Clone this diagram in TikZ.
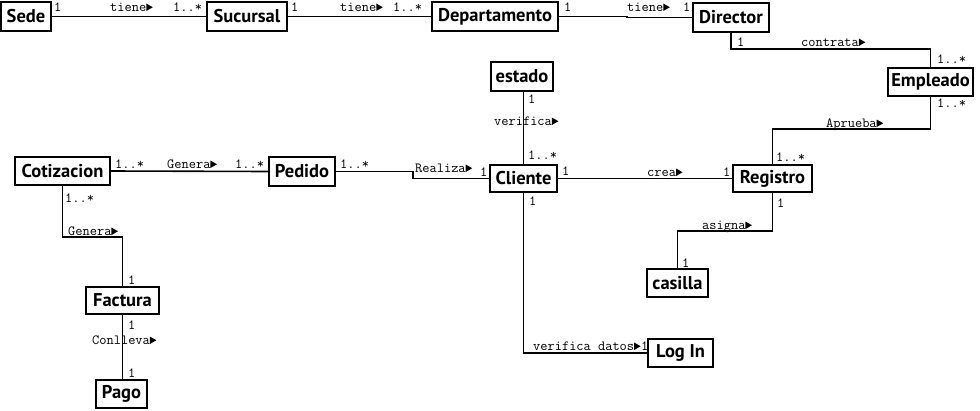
\documentclass[tikz,border=0pt]{standalone}
\usepackage{fontspec}
\newfontfamily\boxfont{PT Sans}[BoldFont={PT Sans Bold}]
\newcommand{\tri}{\tikz[baseline=0pt]\fill[black] (0.5pt,0pt) -- (0.5pt,7.5pt) -- (7pt,3.75pt) -- cycle;}
\begin{document}
\begin{tikzpicture}[x=1pt,y=-1pt,
  cls/.style={draw=black, line width=1.6pt, fill=white, inner sep=0pt, font=\boxfont\bfseries\fontsize{18.5}{20}\selectfont},
  lbl/.style={anchor=base west, inner sep=0pt, font=\ttfamily\fontsize{14}{15}\selectfont},
  conn/.style={line width=1.6pt, draw=black}]
\useasboundingbox (0,0) rectangle (980,410);
\fill[white] (0,0) rectangle (980,410);

% classes
\node[cls, minimum width=50pt, minimum height=29pt] (sede) at (26,16.5) {Sede};
\node[cls, minimum width=80pt, minimum height=29pt] (suc) at (247,16.5) {Sucursal};
\node[cls, minimum width=126pt, minimum height=29pt] (dep) at (495,16.5) {Departamento};
\node[cls, minimum width=76pt, minimum height=29pt] (dir) at (731,17.5) {Director};
\node[cls, minimum width=85pt, minimum height=28pt] (emp) at (930.5,82) {Empleado};
\node[cls, minimum width=62pt, minimum height=29pt] (est) at (522,76.5) {estado};
\node[cls, minimum width=95pt, minimum height=28pt] (cot) at (62.5,171) {Cotizacion};
\node[cls, minimum width=66pt, minimum height=29pt] (ped) at (302,171.5) {Pedido};
\node[cls, minimum width=67pt, minimum height=27pt] (cli) at (523.5,178.5) {Cliente};
\node[cls, minimum width=79pt, minimum height=27pt] (reg) at (772.5,178.5) {Registro};
\node[cls, minimum width=61pt, minimum height=28pt] (cas) at (677.5,283) {casilla};
\node[cls, minimum width=73pt, minimum height=27pt] (fac) at (122.5,300.5) {Factura};
\node[cls, minimum width=51pt, minimum height=28pt] (pago) at (121.5,394) {Pago};
\node[cls, minimum width=65pt, minimum height=28pt] (log) at (680.5,353) {Log In};

% bend coordinates
\coordinate (s1) at (627,16.5);
\coordinate (b1) at (830,49);
\coordinate (b2) at (850,129);
\coordinate (s2) at (413,171.5);
\coordinate (b3) at (90,237);
\coordinate (b4) at (720,231);

% connectors
\draw[conn] (sede.east) -- (suc.west);
\draw[conn] (suc.east) -- (dep.west);
\draw[conn] (dep.east) -- (s1) |- (dir.west);
\draw[conn] (dir.south) |- (b1) -| (emp.north);
\draw[conn] (emp.south) |- (b2) -| (reg.north);
\draw[conn] (cli.north) -- (cli.north |- est.south);
\draw[conn] (cot.east) -- (ped.west);
\draw[conn] (ped.east) -- (s2) |- (cli.west);
\draw[conn] (cli.east) -- (reg.west);
\draw[conn] (cot.south) |- (b3) -| (fac.north);
\draw[conn] (fac.south) -- (fac.south |- pago.north);
\draw[conn] (reg.south) |- (b4) -| (cas.north);
\draw[conn] (cli.south) |- (log.west);

% labels: top row
\node[lbl] (m1) at (54,11) {1};
\node[lbl] (t1) at (110,11) {tiene\tri};
\node[lbl] (m2) at (173,11) {1..*};
\node[lbl] (m3) at (291,11) {1};
\node[lbl] (t2) at (340,11) {tiene\tri};
\node[lbl] (m4) at (393,11) {1..*};
\node[lbl] (m5) at (564,11) {1};
\node[lbl] (t3) at (627,11) {tiene\tri};
\node[lbl] (m6) at (683,11) {1};
% director - empleado
\node[lbl] (m7) at (737,46) {1};
\node[lbl] (t4) at (801,46) {contrata\tri};
\node[lbl] (m8) at (937,63) {1..*};
% empleado - registro
\node[lbl] (m9) at (937,107) {1..*};
\node[lbl] (t5) at (826,127) {Aprueba\tri};
\node[lbl] (m10) at (776,161) {1..*};
% estado - cliente
\node[lbl] (m11) at (528,103) {1};
\node[lbl] (t6) at (494,125) {verifica\tri};
\node[lbl] (m12) at (528,159) {1..*};
% cotizacion - pedido - cliente
\node[lbl] (m13) at (115,168) {1..*};
\node[lbl] (t7) at (167,168) {Genera\tri};
\node[lbl] (m14) at (235,168) {1..*};
\node[lbl] (m15) at (340,168) {1..*};
\node[lbl] (t8) at (415,172) {Realiza\tri};
\node[lbl] (m16) at (480,176) {1};
% cliente - registro
\node[lbl] (m17) at (562,175) {1};
\node[lbl] (t9) at (647,176) {crea\tri};
\node[lbl] (m18) at (723,176) {1};
% registro - casilla
\node[lbl] (m19) at (777,207) {1};
\node[lbl] (t10) at (702,229) {asigna\tri};
\node[lbl] (m20) at (682,267) {1};
% cotizacion - factura
\node[lbl] (m21) at (65,202) {1..*};
\node[lbl] (t11) at (68,235) {Genera\tri};
\node[lbl] (m22) at (128,284) {1};
% factura - pago
\node[lbl] (m23) at (128,329) {1};
\node[lbl] (t12) at (92,344) {Conlleva\tri};
\node[lbl] (m24) at (128,377) {1};
% cliente - log in
\node[lbl] (m25) at (529,205) {1};
\node[lbl] (t13) at (533,350) {verifica datos\tri};
\node[lbl] (m26) at (641,350) {1};
\end{tikzpicture}
\end{document}
